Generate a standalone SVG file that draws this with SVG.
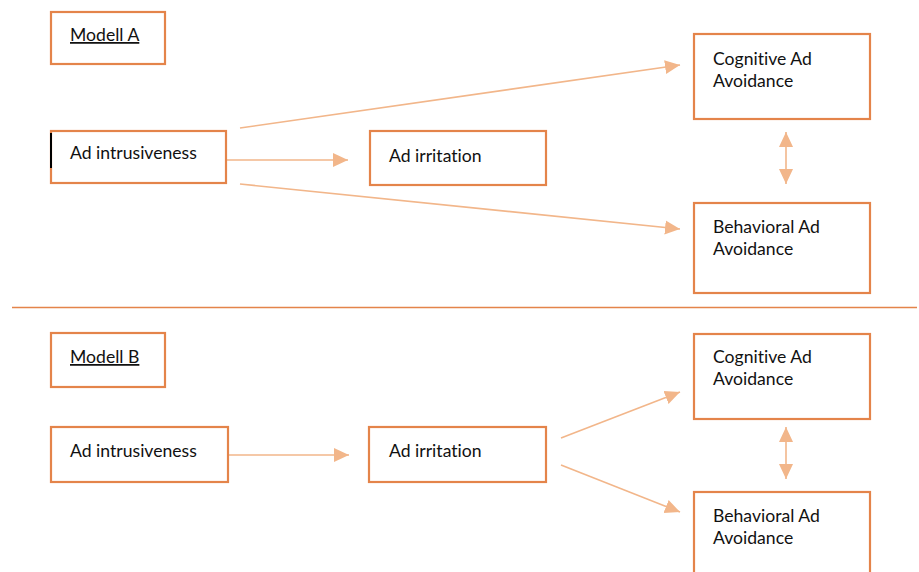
<svg xmlns="http://www.w3.org/2000/svg" width="919" height="572" viewBox="0 0 919 572">
<style>
.box{fill:#fff;stroke:#E4844A;stroke-width:2.2}
.t{font-family:Lato,"Open Sans","Liberation Sans",sans-serif;font-size:17.6px;fill:#111;font-variant-ligatures:none;font-feature-settings:"liga" 0,"dlig" 0}
.u{text-decoration:underline}
.c{stroke:#F2B68A;stroke-width:1.6;fill:none}
</style>
<defs>
<marker id="ah" markerUnits="userSpaceOnUse" markerWidth="16" markerHeight="16" refX="15" refY="7" orient="auto-start-reverse" viewBox="0 0 16 14">
<path d="M0,0 L15,7 L0,14 Z" fill="#F2B68A"/>
</marker>
</defs>
<rect x="0" y="0" width="919" height="572" fill="#fff"/>
<line x1="12" y1="307.5" x2="917" y2="307.5" stroke="#E4844A" stroke-width="1.6"/>
<g id="connectors">
<line class="c" x1="240" y1="128" x2="680" y2="65" marker-end="url(#ah)"/>
<line class="c" x1="227" y1="160" x2="348" y2="160" marker-end="url(#ah)"/>
<line class="c" x1="240" y1="184" x2="680" y2="229" marker-end="url(#ah)"/>
<line class="c" x1="786" y1="132" x2="786" y2="184" marker-start="url(#ah)" marker-end="url(#ah)"/>
<line class="c" x1="229" y1="455" x2="349" y2="455" marker-end="url(#ah)"/>
<line class="c" x1="561" y1="438" x2="680" y2="392" marker-end="url(#ah)"/>
<line class="c" x1="561" y1="465" x2="680" y2="512" marker-end="url(#ah)"/>
<line class="c" x1="786" y1="427" x2="786" y2="479" marker-start="url(#ah)" marker-end="url(#ah)"/>
</g>
<g id="modellA">
<rect class="box" x="51" y="12" width="114" height="52"/>
<text class="t u" x="70" y="41">Modell A</text>
</g>
<g id="intrusA">
<rect class="box" x="51" y="131" width="175" height="52"/>
<line x1="51" y1="133" x2="51" y2="168" stroke="#000" stroke-width="2"/>
<text class="t" x="70" y="159">Ad intrusiveness</text>
</g>
<g id="irritA">
<rect class="box" x="370" y="131" width="176" height="54"/>
<text class="t" x="389" y="162">Ad irritation</text>
</g>
<g id="cogA">
<rect class="box" x="694" y="34" width="176" height="85"/>
<text class="t" x="713" y="65">Cognitive Ad</text>
<text class="t" x="713" y="87">Avoidance</text>
</g>
<g id="behA">
<rect class="box" x="694" y="203" width="176" height="90"/>
<text class="t" x="713" y="233">Behavioral Ad</text>
<text class="t" x="713" y="255">Avoidance</text>
</g>
<g id="modellB">
<rect class="box" x="51" y="333" width="114" height="54"/>
<text class="t u" x="70" y="363">Modell B</text>
</g>
<g id="intrusB">
<rect class="box" x="51" y="427" width="177" height="55"/>
<text class="t" x="70" y="457">Ad intrusiveness</text>
</g>
<g id="irritB">
<rect class="box" x="369" y="427" width="177" height="55"/>
<text class="t" x="389" y="457">Ad irritation</text>
</g>
<g id="cogB">
<rect class="box" x="694" y="334" width="176" height="85"/>
<text class="t" x="713" y="363">Cognitive Ad</text>
<text class="t" x="713" y="385">Avoidance</text>
</g>
<g id="behB">
<rect class="box" x="694" y="492" width="176" height="90"/>
<text class="t" x="713" y="522">Behavioral Ad</text>
<text class="t" x="713" y="544">Avoidance</text>
</g>
</svg>
